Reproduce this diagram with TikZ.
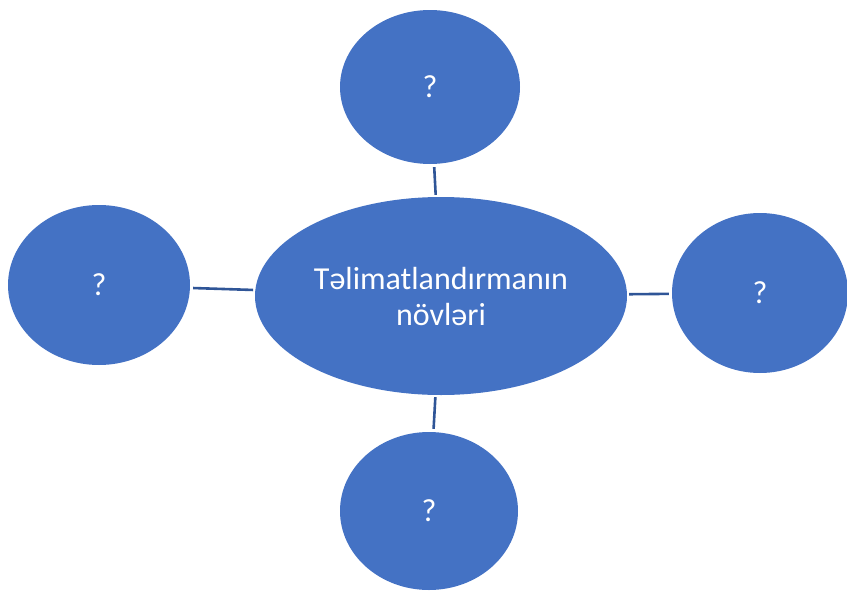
\documentclass[tikz,border=0pt]{standalone}
\usepackage{fontspec}
\setmainfont{Carlito}
\definecolor{bubble}{HTML}{4472C4}
\definecolor{linkc}{HTML}{2F5597}
\begin{document}
\begin{tikzpicture}[x=1pt,y=1pt,
  bub/.style={ellipse, fill=bubble, text=white, inner sep=0pt, align=center,
    font=\fontsize{32}{36}\selectfont},
  link/.style={draw=linkc, line width=2.6pt, shorten >=2pt, shorten <=3pt}]
\usetikzlibrary{shapes.geometric}
\useasboundingbox (0,0) rectangle (847,-592);
\node[bub, minimum width=372pt, minimum height=198pt] (c) at (441,-296) {Təlimatlandırmanın\\növləri};
\node[bub, minimum width=180pt, minimum height=154pt] (t) at (430,-87) {?};
\node[bub, minimum width=182pt, minimum height=160pt] (l) at (99,-285) {?};
\node[bub, minimum width=176pt, minimum height=160pt] (r) at (760,-293) {?};
\node[bub, minimum width=178pt, minimum height=158pt] (b) at (429,-511) {?};
\draw[link] (t) -- (c);
\draw[link] (l) -- (c);
\draw[link] (r) -- (c);
\draw[link] (b) -- (c);
\end{tikzpicture}
\end{document}
